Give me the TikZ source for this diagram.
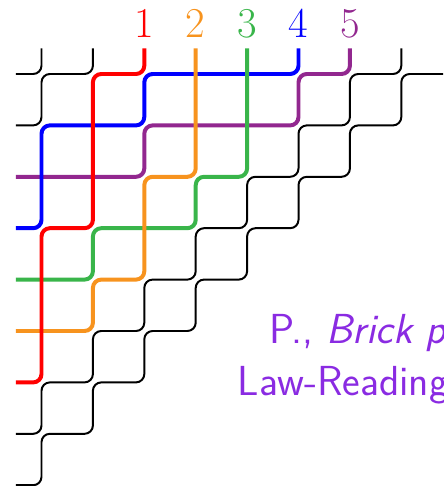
\documentclass[tikz,border=0pt]{standalone}
\usetikzlibrary{calc}
\definecolor{pipered}{RGB}{255,0,0}
\definecolor{pipeorange}{RGB}{247,147,30}
\definecolor{pipegreen}{RGB}{57,181,74}
\definecolor{pipeblue}{RGB}{0,0,255}
\definecolor{pipepurple}{RGB}{146,39,143}
\definecolor{citeviolet}{RGB}{138,43,226}
\begin{document}
\begin{tikzpicture}[x=0.5524pt,y=-0.5524pt,
  pipe/.style={line width=1.1pt, rounded corners=4.6pt, line join=round},
  cpipe/.style={line width=2.2pt, rounded corners=4.6pt, line join=round},
  lab/.style={anchor=base, inner sep=0pt, font=\fontsize{23.5}{28}\selectfont},
  cite/.style={anchor=base west, inner sep=0pt, text=citeviolet, font=\fontsize{23.2}{28}\selectfont\sffamily}]
\useasboundingbox (0,0) rectangle (443,486);
\clip (0,0) rectangle (443,486);
\foreach \i in {1,...,9} {
  \coordinate (L\i) at (15.8, {74+51.4*(\i-1)});
  \coordinate (T\i) at ({41.5+51.4*(\i-1)}, 48.3);
  \foreach \j in {1,...,9} {
    \coordinate (c\i\j) at ({41.5+51.4*(\j-1)}, {74+51.4*(\i-1)});
  }
}
% black pipes
\draw[pipe] (L1) -- (c11) -- (T1);
\draw[pipe] (L2) -- (c21) -- (c11) -- (c12) -- (T2);
\draw[pipe] (L8) -- (c81) -- (c71) -- (c72) -- (c62) -- (c63) -- (c53) -- (c54) -- (c44) -- (c45) -- (c35) -- (c36) -- (c26) -- (c27) -- (c17) -- (c18) -- (T8);
\draw[pipe] (L9) -- (c91) -- (c81) -- (c82) -- (c72) -- (c73) -- (c63) -- (c64) -- (c54) -- (c55) -- (c45) -- (c46) -- (c36) -- (c37) -- (c27) -- (c28) -- (c18) -- (c19) -- (T9);
% coloured pipes
\draw[cpipe, pipepurple] (L3) -- (c33) -- (c23) -- (c26) -- (c16) -- (c17) -- (T7);
\draw[cpipe, pipeblue] (L4) -- (c41) -- (c21) -- (c23) -- (c13) -- (c16) -- (T6);
\draw[cpipe, pipegreen] (L5) -- (c52) -- (c42) -- (c44) -- (c34) -- (c35) -- (T5);
\draw[cpipe, pipeorange] (L6) -- (c62) -- (c52) -- (c53) -- (c33) -- (c34) -- (T4);
\draw[cpipe, pipered] (L7) -- (c71) -- (c41) -- (c42) -- (c12) -- (c13) -- (T3);
% labels
\node[lab, text=pipered] (lab1) at ($(T3)+(0,-10.8)$) {1};
\node[lab, text=pipeorange] (lab2) at ($(T4)+(0,-10.8)$) {2};
\node[lab, text=pipegreen] (lab3) at ($(T5)+(0,-10.8)$) {3};
\node[lab, text=pipeblue] (lab4) at ($(T6)+(0,-10.8)$) {4};
\node[lab, text=pipepurple] (lab5) at ($(T7)+(0,-10.8)$) {5};
% citation text
\node[cite] (cite1) at (269,343.5) {P., \textit{Brick p}};
\node[cite] (cite2) at (237.5,395.5) {Law-Reading};
\end{tikzpicture}
\end{document}
